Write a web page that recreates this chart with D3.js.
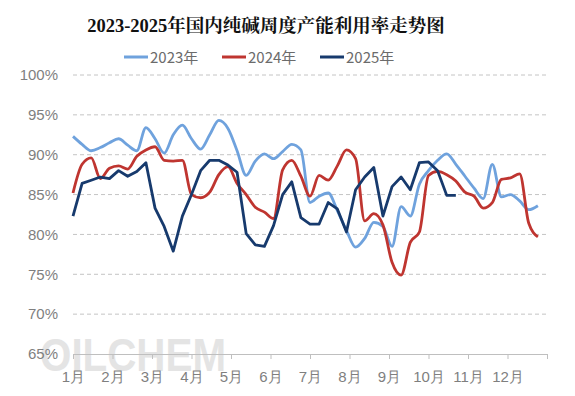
<!DOCTYPE html>
<html>
<head>
<meta charset="utf-8">
<script src="https://cdn.jsdelivr.net/npm/d3@7"></script>
<style>
  body { margin: 0; background: #fff; }
  svg { display: block; font-family: "Microsoft YaHei", "Noto Sans CJK SC", "Noto Sans", sans-serif; }
</style>
</head>
<body>
<svg id="chart" width="575" height="396"></svg>
<script>
const months = ["1月", "2月", "3月", "4月", "5月", "6月", "7月", "8月", "9月", "10月", "11月", "12月"];
const yTicks = [65, 70, 75, 80, 85, 90, 95, 100];
const seriesNames = ["2023年", "2024年", "2025年"];

// 周度数据（%）
const y2023 = [92.3, 91.3, 90.5, 90.9, 91.5, 92.0, 91.2, 90.5, 93.4, 92.0, 90.2, 92.5, 93.7, 92.0, 90.7,
  92.5, 94.3, 93.3, 90.5, 87.4, 89.2, 90.1, 89.5, 90.4, 91.3, 90.6, 84.0, 84.8, 85.2, 83.0, 80.5, 78.4,
  79.5, 81.5, 81.0, 78.5, 83.5, 82.3, 86.3, 88.0, 89.3, 90.1, 88.8, 87.3, 85.8, 84.5, 88.8, 84.7, 85.0,
  84.2, 83.1, 83.6];
const y2024 = [85.2, 88.8, 89.6, 87.0, 88.3, 88.6, 88.2, 89.8, 90.6, 91.0, 89.3, 89.2, 89.3, 85.0, 84.6,
  85.3, 87.5, 88.5, 86.4, 85.0, 83.4, 82.8, 82.0, 88.1, 89.3, 87.3, 84.8, 87.4, 86.8, 88.6, 90.6, 89.5,
  81.7, 82.6, 81.2, 76.5, 74.9, 79.0, 80.3, 87.4, 87.9, 87.5, 86.7, 85.3, 84.8, 83.3, 84.0, 86.9, 87.1,
  87.6, 81.4, 79.7];
const y2025 = [82.3, 86.4, 86.8, 87.2, 87.0, 88.0, 87.3, 87.9, 89.0, 83.3, 81.0, 77.9, 82.3, 85.0, 88.0,
  89.3, 89.3, 88.7, 87.8, 80.1, 78.7, 78.5, 81.1, 85.0, 86.6, 82.1, 81.3, 81.3, 84.0, 83.2, 80.3, 85.6,
  87.2, 88.4, 82.3, 86.0, 87.2, 85.6, 89.0, 89.1, 88.0, 84.9, 84.9];

const colors = ["#6fa2dd", "#bf3530", "#173a6d"];

const svg = d3.select("#chart");

const x = d3.scaleLinear().domain([1, 53]).range([73, 547]);
const y = d3.scaleLinear().domain([65, 100]).range([354, 75]);

// 水印
svg.append("text")
  .attr("x", 40)
  .attr("y", 371)
  .attr("textLength", 186)
  .attr("lengthAdjust", "spacingAndGlyphs")
  .style("font-family", "'Liberation Sans', Arial, sans-serif")
  .style("font-weight", "bold")
  .style("font-size", "46px")
  .attr("fill", "#e4e4e4")
  .text("OILCHEM");

// 标题
svg.append("text")
  .attr("x", 266)
  .attr("y", 32)
  .attr("text-anchor", "middle")
  .style("font-family", "'Liberation Serif', 'Noto Serif CJK SC', 'Noto Sans CJK SC', serif")
  .style("font-weight", "bold")
  .style("font-size", "18.5px")
  .attr("fill", "#111")
  .text("2023-2025年国内纯碱周度产能利用率走势图");

// 网格线
svg.append("g")
  .selectAll("line")
  .data(yTicks.filter(d => d > 65))
  .join("line")
  .attr("x1", 73)
  .attr("x2", 547)
  .attr("y1", d => y(d))
  .attr("y2", d => y(d))
  .attr("stroke", "#c4c4c4")
  .attr("stroke-width", 1)
  .attr("stroke-dasharray", "4,3");

// Y轴
const yAxis = d3.axisLeft(y).tickValues(yTicks).tickSize(0).tickPadding(0).tickFormat(d => d + "%");
svg.append("g")
  .attr("transform", "translate(58,0)")
  .call(yAxis)
  .call(g => g.select(".domain").remove())
  .selectAll("text")
  .style("font-size", "15px")
  .attr("fill", "#7f7f7f");

// X轴
const monthPos = d3.range(13).map(i => 1 + i * 52 / 12);
const xAxis = d3.axisBottom(x).tickValues(monthPos).tickSize(5).tickPadding(12)
  .tickFormat((d, i) => months[i] || "");
svg.append("g")
  .attr("transform", `translate(0,${y(65)})`)
  .call(xAxis)
  .call(g => g.select(".domain").attr("stroke", "#bfbfbf").attr("d", `M73,0.5H547`))
  .call(g => g.selectAll(".tick line").attr("stroke", "#bfbfbf"))
  .selectAll("text")
  .style("font-size", "15px")
  .attr("fill", "#7f7f7f");

// 折线
const series = [y2023, y2024, y2025];
const curves = [d3.curveMonotoneX, d3.curveMonotoneX, d3.curveLinear];
series.forEach((vals, k) => {
  const line = d3.line()
    .x((d, i) => x(i + 1))
    .y(d => y(d))
    .curve(curves[k]);
  svg.append("path")
    .datum(vals)
    .attr("d", line)
    .attr("fill", "none")
    .attr("stroke", colors[k])
    .attr("stroke-width", 2.8)
    .attr("stroke-linejoin", "round");
});

// 图例
const legendX = [124, 222, 320];
const legend = svg.append("g");
seriesNames.forEach((name, k) => {
  legend.append("line")
    .attr("x1", legendX[k])
    .attr("x2", legendX[k] + 24)
    .attr("y1", 57)
    .attr("y2", 57)
    .attr("stroke", colors[k])
    .attr("stroke-width", 3);
  legend.append("text")
    .attr("x", legendX[k] + 26)
    .attr("y", 62.5)
    .style("font-size", "15px")
    .attr("fill", "#6b6b6b")
    .text(name);
});
</script>
</body>
</html>
